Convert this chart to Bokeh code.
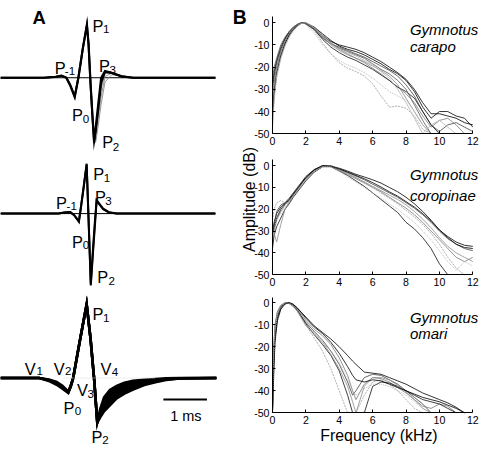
import numpy as np
from bokeh.plotting import figure
from bokeh.models import Range1d, LinearAxis, FixedTicker
from bokeh.core.properties import value
from bokeh.embed import file_html
from bokeh.resources import INLINE

NA = float("nan")

# ---------------- Panel A : EOD waveforms (time in ms, amplitude / P1) ----------------
A1_T = [0.0, 1.0, 1.267, 1.4, 1.511, 1.6, 1.704, 1.789, 1.889, 1.984, 2.022, 2.067,
        2.111, 2.149, 2.189, 2.244, 2.311, 2.4, 2.556, 2.778, 3.044, 4.933]
A1_MAIN = [0, 0, 0.018, 0.036, 0, -0.145, -0.364, 0, 0.545, 1.0, 0.636, -0.1,
           -0.71, -1.218, -0.91, -0.5, 0, 0.127, 0.091, 0.027, 0, 0]
A1_B = [0, 0, 0.02, 0.04, 0.005, -0.13, -0.35, 0.01, 0.55, 0.99, 0.62, -0.12,
        -0.73, -1.2, -0.98, -0.6, -0.1, 0.11, 0.09, 0.03, 0, 0]
A1_G1 = [0, 0, 0.018, 0.036, 0, -0.145, -0.364, 0, 0.545, 1.0, 0.636, -0.1,
         -0.7, -1.2, -1.15, -0.75, -0.35, 0.02, 0.09, 0.03, 0, 0]
A1_G2 = [0, 0, 0.018, 0.036, 0, -0.145, -0.364, 0, 0.545, 1.0, 0.636, -0.1,
         -0.68, -1.1, -1.05, -0.62, -0.2, 0.08, 0.1, 0.03, 0, 0]
A1_G3 = [0, 0, 0.018, 0.036, 0, -0.145, -0.364, 0, 0.545, 1.0, 0.636, -0.12,
         -0.74, -1.25, -1.2, -0.9, -0.5, -0.08, 0.06, 0.03, 0, 0]

A2_T = [0.0, 1.333, 1.467, 1.6, 1.689, 1.8, 1.844, 1.911, 1.978, 2.011, 2.033, 2.073,
        2.122, 2.167, 2.207, 2.267, 2.356, 2.489, 2.667, 4.933]
A2_MAIN = [0, 0, 0.023, 0.033, -0.025, -0.166, 0.12, 0.55, 1.0, 0.15, -0.41, -1.437,
           -0.81, -0.25, 0.259, 0.188, 0.09, 0.023, 0, 0]
A2_B = [0, 0, 0.02, 0.03, -0.03, -0.15, 0.1, 0.53, 0.98, 0.17, -0.38, -1.4,
        -0.72, -0.16, 0.27, 0.2, 0.1, 0.03, 0, 0]

A3_T = [0.0, 0.889, 1.111, 1.289, 1.422, 1.556, 1.611, 1.667, 1.822, 1.978, 2.067, 2.149,
        2.222, 2.289, 2.378, 2.511, 2.667, 2.844, 3.044, 3.3, 3.556, 3.8, 4.111, 4.956]
A3_FAST = [0, 0, -0.02, -0.052, -0.104, -0.183, -0.104, 0, 0.508, 1.0, 0.535, 0,
           -0.596, -0.42, -0.26, -0.16, -0.105, -0.065, -0.038, -0.022, -0.012, -0.005, 0, 0]
A3_M1 = [0, 0, -0.027, -0.065, -0.117, -0.19, -0.11, -0.003, 0.505, 0.997, 0.533, -0.003,
         -0.6, -0.47, -0.33, -0.23, -0.16, -0.115, -0.08, -0.048, -0.027, -0.013, -0.003, 0]
A3_M2 = [0, 0, -0.033, -0.078, -0.13, -0.195, -0.115, -0.007, 0.502, 0.994, 0.532, -0.007,
         -0.6, -0.5, -0.39, -0.3, -0.215, -0.16, -0.118, -0.072, -0.042, -0.02, -0.005, 0]
A3_SLOW = [0, 0, -0.039, -0.091, -0.143, -0.2, -0.12, -0.01, 0.5, 0.99, 0.53, -0.01,
           -0.6, -0.53, -0.45, -0.37, -0.274, -0.21, -0.156, -0.095, -0.055, -0.026, -0.007, 0]

BASELINE_T = [0.0, 4.933]
SCALE_BAR_MS = 1.0

# ---------------- Panel B : power spectra (kHz, dB) ----------------
F_GRID = [0, 0.1, 0.25, 0.5, 0.75, 1.0, 1.25, 1.5, 1.75, 2.0, 2.5, 3.0, 3.5, 4.0, 4.5,
          5.0, 5.5, 6.0, 6.5, 7.0, 7.5, 8.0, 8.5, 9.0, 9.5, 10.0, 10.5, 11.0, 11.5, 12.0]

CARAPO = [
    [-30, -24, -18, -12, -7.5, -4.5, -2.5, -1, 0, -0.3, -2.5, -6, -8.5, -10, -11, -12, -13.5, -15.5, -17.5, -20, -22.5, -25.5, -30, -36, -41, -41, -42, -43, -45, -46],
    [-35, -27, -20, -13, -8.5, -5, -3, -1.2, 0, -0.5, -3, -7, -9.5, -11, -12.5, -14, -15.5, -17.5, -19.5, -21.5, -24, -28, -33, -40, -46, -49, -46, -45, -47, -49],
    [-40, -30, -22, -15, -10, -6, -3.5, -1.5, -0.2, 0, -2, -5.5, -9, -12, -14, -16, -18, -20.5, -23, -26, -29, -32, -36, -42, -47, -44, -43, -46, -50, NA],
    [-42, -33, -25, -16, -10, -6, -3.5, -1.5, 0, -0.5, -3.5, -9, -14, -18, -20.5, -22, -24, -27.5, -33, -38, -37.5, -38.5, -42, -48, -50, NA, NA, NA, NA, NA],
    [-28, -22, -17, -11, -7, -4, -2, -0.7, 0, -0.5, -3, -7.5, -11, -13.5, -15.5, -17, -19, -21, -23.5, -26, -29, -31, -34, -40, -46, -50, NA, NA, NA, NA],
    [-38, -29, -21, -14, -9, -5.5, -3, -1.2, -0.2, 0, -2.5, -6.5, -10, -12.5, -14.5, -16, -17.5, -19.5, -21.5, -24, -28, -34, -40, -46, -50, NA, NA, NA, NA, NA],
    [-45, -32, -23, -15, -9.5, -5.5, -3, -1.3, -0.1, -0.2, -2, -5, -8, -10.5, -12, -13, -14.5, -16.5, -18.5, -21, -23, -26, -31, -38, -43, -40, -40, -42, -43, -47],
    [-33, -26, -19, -12.5, -8, -5, -2.5, -1, 0, -0.8, -4.5, -10, -14, -17, -19, -20.5, -22.5, -25, -28, -31, -33, -35, -40, -46, -50, NA, NA, NA, NA, NA],
    [-25, -20, -16, -10, -6.5, -4, -2, -0.8, 0, -0.4, -2.8, -6.5, -9.5, -11.5, -13, -14.5, -16, -18.5, -21, -23, -26, -30, -37, -44, -50, NA, NA, NA, NA, NA],
    [-48, -35, -24, -16, -10.5, -6.5, -3.5, -1.5, -0.3, 0, -2.2, -6, -9.5, -12, -13.5, -15, -17, -19, -22, -25, -30, -36, -43, -50, -46, -44, -47, -50, NA, NA],
]

COROPINAE = [
    [-30, -26, -22, -19, -17, -15, -12.5, -10, -7.5, -5, -1.8, 0, -0.3, -1.2, -2.5, -4, -5.2, -6.5, -8, -10, -12, -14.5, -17.5, -21, -25, -29.5, -32.5, -35, -36.5, -37],
    [-33, -27, -21, -18, -17, -16, -13.5, -11, -8, -5.5, -2, -0.2, 0, -1.5, -3, -4.8, -6.5, -8.5, -10.5, -12.5, -14.5, -17, -19.5, -22.5, -26, -30, -33.5, -36, -38, -39],
    [-36, -30, -25, -21, -18, -16, -13, -10.5, -8, -6, -2.5, -0.3, -0.2, -2, -4, -6, -8, -10, -12, -14.5, -17, -19.5, -22.5, -26, -30, -34, -38, -42, -44, -42],
    [-25, -20, -17, -16, -17, -17, -14, -11.5, -9, -6.5, -2.8, -0.5, 0, -1.5, -3.5, -5.5, -7.5, -10, -12.5, -15, -17.5, -20.5, -23.5, -27, -31, -36, -42, -47, -50, NA],
    [-38, -32, -28, -24, -20, -17.5, -14.5, -12, -9.5, -7, -3, -0.5, -0.5, -2.5, -4.5, -7, -9.5, -12.5, -15.5, -18.5, -21.5, -26, -29, -33, -38, -45, -50, NA, NA, NA],
    [-28, -31, -35, -27, -20, -16.5, -13.5, -11, -8.5, -6, -2.5, -0.3, -0.2, -1.8, -3.5, -5.5, -7.5, -9.5, -11.5, -13.5, -15.5, -18, -21, -24.5, -28.5, -33, -37, -40, -42, -44],
    [-31, -28, -24, -20, -17.5, -15.5, -13, -10.5, -8, -5.5, -2, 0, -0.3, -1.5, -3, -4.5, -6, -7.8, -9.8, -12, -14, -16.5, -19, -22, -25.5, -29.5, -33, -36, -37.5, -38],
    [-34, -29, -24, -22, -19, -16.5, -14, -11.5, -9, -6.5, -2.8, -0.5, -0.4, -2.5, -5, -7.5, -10, -12.5, -15, -17.5, -20, -23, -26, -30, -34, -39, -44, -48, -44, -46],
]

F_GRID_OMARI = [0, 0.05, 0.15, 0.3, 0.5, 0.75, 1.0, 1.25, 1.5, 2.0, 2.5, 3.0, 3.5, 4.0, 4.5, 4.8,
                5.0, 5.5, 6.0, 6.5, 7.0, 7.5, 8.0, 8.5, 9.0, 9.5, 10.0, 10.5, 11.0, 11.5, 12.0]

OMARI = [
    [-50, -30, -14, -6, -2, -0.3, 0, -0.8, -2.5, -6.5, -10.5, -13.5, -16.5, -20, -24, -26.5, -28, -31.5, -32, -32.5, -34, -35.5, -37, -39, -41, -42.5, -44, -45.5, -47.5, -50, NA],
    [-50, -25, -10, -4, -1.2, 0, -0.3, -1.5, -3.5, -9, -13, -17, -22, -28, -36, -42, -40, -34, -32.5, -33, -35, -37, -40, -43, -46, -50, NA, NA, NA, NA, NA],
    [-50, -35, -16, -7, -2.5, -0.5, 0, -1, -3, -8, -12, -15, -19, -25, -33, -40, -44, -37, -34, -34.5, -36, -38.5, -41, -44, -47, -48, -46, -47, -50, NA, NA],
    [-50, -28, -12, -5, -1.5, -0.2, -0.2, -1.5, -4, -10, -16, -22, -30, -40, -50, NA, -50, -42, -36, -35, -37, -40, -44, -48, -50, NA, NA, NA, NA, NA, NA],
    [-50, -32, -15, -6.5, -2, -0.3, 0, -1.2, -3.5, -9.5, -14.5, -19, -24, -31, -42, -50, NA, -50, -38, -36, -36.5, -38, -40, -42, -44, -45, -46, -48, -50, NA, NA],
    [-50, -27, -11, -4.5, -1.3, 0, -0.4, -1.8, -4, -10.5, -14, -18, -23.5, -30, -38, -45, -50, -38, -34, -34, -35, -37.5, -40.5, -44, -48, -50, NA, NA, NA, NA, NA],
    [-50, -38, -18, -8, -3, -0.6, 0, -0.7, -2.5, -7, -11, -14, -18, -23, -29, -33, -35, -36, -35, -35.5, -37, -38.5, -40, -41.5, -43, -44, -45, -46.5, -48, -50, NA],
    [-50, -30, -13, -5.5, -1.8, -0.2, -0.1, -1.3, -3.2, -8.5, -13.5, -18, -22, -27, -35, -40, -42, -39, -37, -37, -38, -40, -42, -45, -48, -50, NA, NA, NA, NA, NA],
]

SPECIES = [("Gymnotus", "carapo"), ("Gymnotus", "coropinae"), ("Gymnotus", "omari")]
X_TICKS = [0, 2, 4, 6, 8, 10, 12]
Y_TICKS = [-50, -40, -30, -20, -10, 0]

# ---------------- layout (reference pixel geometry) ----------------
REF_W, REF_H = 498, 465
W, H = 482, 449
FS = 0.966
FONT = "Liberation Sans"

MS_PX = 45.0                       # px per ms in panel A
A_BASE = [80.0, 220.7, 391.0]      # baseline y (px)
A_SCALE = [55.0, 51.7, 76.7]       # px per unit amplitude
F0_PX, F_PX = 281.0, 17.25         # x px of 0 kHz, px per kHz
DB0 = [23.0, 171.0, 313.0]         # y px of 0 dB
DB_PX = [2.3, 2.26, 2.28]          # px per dB

p = figure(width=W, height=H, x_range=Range1d(0, REF_W), y_range=Range1d(REF_H, 0),
           output_backend="svg", toolbar_location=None, tools="",
           x_axis_location=None, y_axis_location=None, min_border=0,
           outline_line_color=None, background_fill_color="white",
           border_fill_color="white")
p.xgrid.visible = False
p.ygrid.visible = False

p.extra_x_ranges = {"t": Range1d(0, REF_W / MS_PX),
                    "f": Range1d(-F0_PX / F_PX, (REF_W - F0_PX) / F_PX)}
yr = {}
for k in range(3):
    yr[f"a{k}"] = Range1d((A_BASE[k] - REF_H) / A_SCALE[k], A_BASE[k] / A_SCALE[k])
    yr[f"d{k}"] = Range1d((DB0[k] - REF_H) / DB_PX[k], DB0[k] / DB_PX[k])
p.extra_y_ranges = yr


def wline(t, a, k, color="black", width=2.0, dash="solid"):
    p.line(np.array(t, float), np.array(a, float), x_range_name="t", y_range_name=f"a{k}",
           line_color=color, line_width=width, line_dash=dash, line_join="miter")


# panel A1
wline(BASELINE_T, [0, 0], 0, width=1)
for tr in (A1_G1, A1_G2, A1_G3):
    wline(A1_T, tr, 0, color="#8a8a8a", width=0.9)
wline(A1_T, A1_B, 0, width=2.0)
wline(A1_T, A1_MAIN, 0, width=2.2)
# panel A2
wline(BASELINE_T, [0, 0], 1, width=1)
wline(A2_T, A2_B, 1, width=2.0)
wline(A2_T, A2_MAIN, 1, width=2.0)
# panel A3 : overlapping traces form a solid band
p.varea(x=np.array(A3_T, float), y1=np.array(A3_FAST, float), y2=np.array(A3_SLOW, float),
        x_range_name="t", y_range_name="a2", fill_color="black")
for tr in (A3_SLOW, A3_M2, A3_M1, A3_FAST):
    wline(A3_T, tr, 2, width=2.6)
wline([1.45, 3.55], [0, 0], 2, color="#d8d8d8", width=1, dash="1 1")
sb_t0 = 168.3 / MS_PX
sb_a = (A_BASE[2] - 413.3) / A_SCALE[2]
wline([sb_t0, sb_t0 + SCALE_BAR_MS], [sb_a, sb_a], 2, width=2.0)

# panel B curves
STY = [("#000000", "solid"), ("#444444", "solid"), ("#7a7a7a", "solid"), ("#999999", "2 1"),
       ("#111111", "solid"), ("#8c8c8c", "solid"), ("#000000", "solid"), ("#aaaaaa", "1 1"),
       ("#555555", "solid"), ("#b5b5b5", "solid")]
for k, (grid, curves) in enumerate([(F_GRID, CARAPO), (F_GRID, COROPINAE), (F_GRID_OMARI, OMARI)]):
    for i, c in enumerate(curves):
        col, dash = STY[i % len(STY)]
        p.line(np.array(grid, float), np.array(c, float), x_range_name="f", y_range_name=f"d{k}",
               line_color=col, line_width=0.8, line_dash=dash)

# panel B axes
for k in range(3):
    common = dict(x_range_name="f", y_range_name=f"d{k}", major_tick_in=3, major_tick_out=0,
                  minor_tick_in=0, minor_tick_out=0, major_label_standoff=3,
                  major_label_text_font=FONT, major_label_text_font_size=f"{11 * FS:.1f}px",
                  major_label_text_color="black", axis_line_color="black",
                  major_tick_line_color="black", axis_line_width=1)
    yax = LinearAxis(fixed_location=0, bounds=(-50, 2.6), ticker=FixedTicker(ticks=Y_TICKS),
                     major_label_overrides={v: str(v) for v in Y_TICKS}, **common)
    p.add_layout(yax, "left")
    xax = LinearAxis(fixed_location=-50, bounds=(0, 12), ticker=FixedTicker(ticks=X_TICKS),
                     major_label_overrides={v: str(v) for v in X_TICKS}, **common)
    p.add_layout(xax, "below")


def txt(x, y, s, size, style="normal", align="left", angle=0.0, baseline="alphabetic"):
    p.text(x=[x], y=[y], text=[s], text_font=value(FONT), text_font_size=f"{size * FS:.1f}px",
           text_font_style=style, text_align=align, text_baseline=baseline, angle=angle,
           text_color="black")


def lab(letter, sub, x, y, sx, sy):
    txt(x, y, letter, 17)
    txt(sx, sy, sub, 12)


txt(33, 17.5, "A", 19, style="bold")
txt(240, 17.5, "B", 20, style="bold")

# A1 labels
lab("P", "1", 95, 26.7, 106, 29.8)
lab("P", "-1", 56, 70, 66.5, 73.5)
lab("P", "3", 101.7, 68.3, 112.5, 71.8)
lab("P", "0", 74, 118.3, 85, 122.5)
lab("P", "2", 105, 146.7, 116, 151.5)
# A2 labels
lab("P", "1", 95.7, 180, 106.7, 183.5)
lab("P", "-1", 57.3, 209.3, 68.3, 213.3)
lab("P", "3", 97.7, 203.3, 108.3, 207.3)
lab("P", "0", 74, 250, 85, 253.5)
lab("P", "2", 100, 286.7, 111.7, 290.5)
# A3 labels
lab("V", "1", 25, 381.7, 37.3, 384)
lab("V", "2", 55, 381.7, 66.7, 384)
lab("V", "3", 79, 403.3, 90, 408)
lab("V", "4", 103.3, 381.7, 115, 384.5)
lab("P", "0", 65, 421.7, 76.7, 425.5)
lab("P", "1", 95, 325, 106, 328.5)
lab("P", "2", 94, 451.7, 105, 455.5)
txt(191.5, 430.7, "1 ms", 15, align="center")

# B labels
sp_y = [(30, 47.5), (180, 202), (328, 345)]
for (g, s), (y1, y2) in zip(SPECIES, sp_y):
    txt(423, y1, g, 15.5, style="italic")
    txt(423, y2, s, 15.5, style="italic")
txt(391, 450, "Frequency (kHz)", 16.5, align="center")
txt(257.5, 206, "Amplitude (dB)", 16.5, align="center", angle=np.pi / 2)

open("out.html", "w").write(file_html(p, INLINE))
